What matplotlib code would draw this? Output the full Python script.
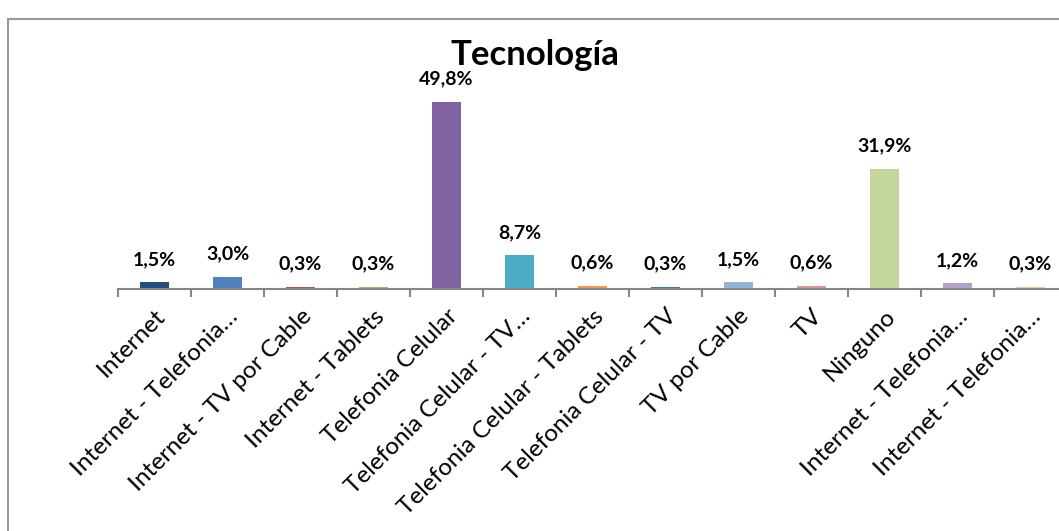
import matplotlib.pyplot as plt
from matplotlib.patches import Rectangle

# Data for the bar chart
categories = ['Internet', 'Internet - Telefonia…', 'Internet - TV por Cable', 'Internet - Tablets',
              'Telefonia Celular', 'Telefonia Celular - TV…', 'Telefonia Celular - Tablets',
              'Telefonia Celular - TV', 'TV por Cable', 'TV', 'Ninguno',
              'Internet - Telefonia…', 'Internet - Telefonia…']
percentages = [1.5, 3.0, 0.3, 0.3, 49.8, 8.7, 0.6, 0.3, 1.5, 0.6, 31.9, 1.2, 0.3]
colors = ['#254E7E', '#4F81BD', '#C0504D', '#9BBB59', '#8064A2', '#4BACC6', '#F79646',
          '#4672B0', '#95B3D7', '#D99694', '#C3D69B', '#B2A2C7', '#FAC090']

plt.rcParams['font.family'] = ['Lato', 'DejaVu Sans']

fig = plt.figure(figsize=(10.59, 5.31), dpi=100)
W, H = 1059, 531

# frame around the chart
fig.patches.append(Rectangle((8 / W, -0.5), 3, 1.5 - 19 / H, transform=fig.transFigure,
                             fill=False, edgecolor='#999999', linewidth=1.5))

ax = fig.add_axes([118 / W, 1 - 289 / H, 949 / W, 206.5 / H])
x = range(len(categories))
ax.bar(x, percentages, width=0.4, color=colors, zorder=3)
ax.set_xlim(-0.5, len(categories) - 0.5)
ax.set_ylim(-0.3, 55)

for i, v in enumerate(percentages):
    ax.annotate(f'{v:.1f}%'.replace('.', ','), (i, v), xytext=(0, 23), textcoords='offset pixels',
                ha='center', va='center', fontsize=14, fontweight='bold', color='#000000')

for side in ['left', 'right', 'top']:
    ax.spines[side].set_visible(False)
ax.spines['bottom'].set_color('#868686')
ax.spines['bottom'].set_linewidth(1.5)
ax.set_yticks([])

ax.set_xticks(list(x))
ax.set_xticklabels(categories, rotation=45, ha='right', rotation_mode='anchor', fontsize=17.5)
ax.tick_params(axis='x', which='major', length=0, pad=12)
ax.set_xticks([i - 0.5 for i in range(len(categories) + 1)], minor=True)
ax.tick_params(axis='x', which='minor', length=6, width=1.5, color='#868686')

fig.text(535 / W, 1 - 65 / H, 'Tecnología', ha='center', va='baseline', fontsize=25, fontweight='bold')

plt.savefig('out.png', dpi=100)
